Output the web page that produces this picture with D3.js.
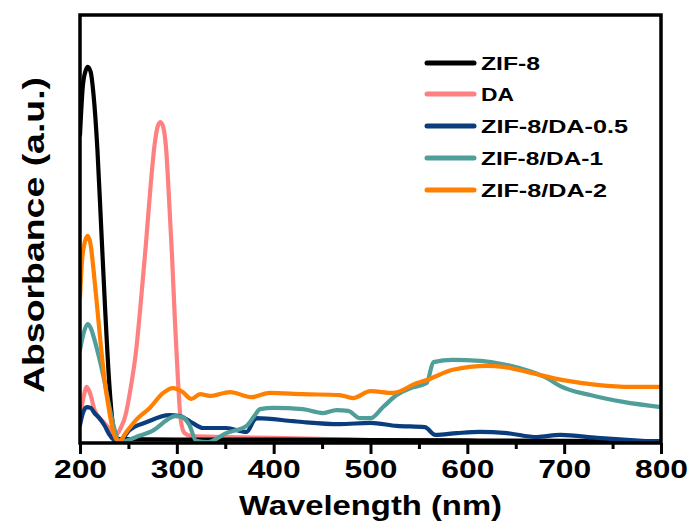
<!DOCTYPE html>
<html><head><meta charset="utf-8">
<script src="https://cdn.jsdelivr.net/npm/d3@7"></script>
<style>body{margin:0;background:#fff}svg{display:block}text{font-family:"Liberation Sans",Arial,sans-serif;font-weight:bold}</style>
</head><body>
<svg id="c" width="688" height="530"></svg>
<script>
const xTicks = [200,300,400,500,600,700,800];
const xMinorTicks = [250,350,450,550,650,750];
const seriesNames = ["ZIF-8","DA","ZIF-8/DA-0.5","ZIF-8/DA-1","ZIF-8/DA-2"];
const seriesColors = ["#000000","#ff8080","#0a3d7d","#4f9e9a","#ff8000"];

const zif8 = [[200,0.72],[203,0.836],[206,0.871],[208,0.879],[211,0.867],[214,0.813],[218,0.685],[222,0.498],[226,0.311],[230,0.147],[234,0.042],[237,0.016],[240,0.009],[300,0.008],[400,0.008],[500,0.007],[600,0.006],[700,0.005],[800,0.004]];
const da = [[200,0.061],[203,0.100],[207,0.131],[211,0.112],[215,0.077],[225,0.047],[234,0.026],[238,0.021],[242,0.035],[247,0.065],[252,0.124],[258,0.217],[263,0.334],[268,0.463],[273,0.603],[277,0.696],[280,0.738],[283,0.750],[286,0.738],[289,0.685],[292,0.568],[295,0.439],[298,0.287],[301,0.154],[304,0.054],[308,0.023],[315,0.016],[350,0.014],[400,0.012],[500,0.007],[600,0.005],[700,0.0035],[800,0.002]];
const da05 = [[200,0.042],[203,0.070],[207,0.084],[211,0.082],[215,0.070],[220,0.058],[225,0.042],[230,0.021],[235,0.007],[240,0.002],[251,0.030],[269,0.049],[292,0.065],[303,0.063],[316,0.047],[327,0.035],[351,0.035],[372,0.026],[380,0.054],[382,0.058],[420,0.051],[430,0.049],[468,0.044],[500,0.047],[527,0.040],[556,0.037],[567,0.019],[589,0.023],[613,0.026],[641,0.023],[672,0.014],[696,0.019],[734,0.012],[800,0.002]];
const da1 = [[200,0.217],[204,0.259],[208,0.278],[211,0.269],[215,0.241],[219,0.206],[222,0.178],[226,0.136],[229,0.100],[234,0.047],[238,0.014],[241,0.002],[250,0.007],[258,0.014],[276,0.030],[290,0.054],[298,0.063],[305,0.061],[313,0.042],[320,0.005],[332,0.002],[351,0.023],[372,0.040],[380,0.063],[386,0.079],[400,0.082],[430,0.079],[451,0.070],[465,0.077],[477,0.075],[489,0.058],[500,0.058],[513,0.084],[527,0.112],[541,0.128],[558,0.140],[565,0.189],[585,0.194],[613,0.192],[630,0.187],[654,0.175],[682,0.152],[696,0.133],[727,0.112],[761,0.096],[800,0.084]];
const da2 = [[200,0.341],[202,0.423],[205,0.470],[208,0.484],[211,0.463],[214,0.404],[218,0.311],[222,0.217],[226,0.136],[230,0.077],[234,0.030],[238,0.007],[240,0.003],[248,0.026],[258,0.054],[272,0.082],[286,0.117],[296,0.128],[306,0.119],[315,0.103],[324,0.114],[334,0.110],[355,0.119],[377,0.107],[396,0.117],[430,0.114],[468,0.112],[482,0.105],[500,0.121],[523,0.117],[548,0.140],[558,0.147],[585,0.171],[620,0.180],[637,0.178],[665,0.164],[699,0.147],[734,0.136],[768,0.131],[800,0.131]];
const seriesData = [zif8, da, da05, da1, da2];
const drawOrder = [1,0,2,3,4];

const svg = d3.select("#c");
const L = 80, R = 661, T = 15, B = 443;
const x = d3.scaleLinear().domain([200,800]).range([L,R]);
const y = d3.scaleLinear().domain([0,1]).range([B,T]);

svg.append("clipPath").attr("id","clip").append("rect").attr("x",L).attr("y",T).attr("width",R-L).attr("height",B-T);

const line = d3.line().x(d=>x(d[0])).y(d=>y(d[1])).curve(d3.curveMonotoneX);
const g = svg.append("g").attr("clip-path","url(#clip)");
drawOrder.forEach(i=>{
  g.append("path").datum(seriesData[i]).attr("d",line).attr("fill","none")
   .attr("stroke",seriesColors[i]).attr("stroke-width",4.2).attr("stroke-linejoin","round").attr("stroke-linecap","round");
});

// frame
svg.append("rect").attr("x",L).attr("y",T).attr("width",R-L).attr("height",B-T).attr("fill","none").attr("stroke","#000").attr("stroke-width",3.5);

// x axis
const ax = svg.append("g").attr("transform",`translate(0,${B})`)
  .call(d3.axisBottom(x).tickValues(xTicks).tickSize(11).tickFormat(d3.format("d")));
ax.select(".domain").remove();
ax.selectAll(".tick line").attr("stroke","#000").attr("stroke-width",3);
ax.selectAll(".tick text").attr("fill","#000").attr("font-size",26).attr("dy",0).attr("y",35)
  .attr("textLength",53).attr("lengthAdjust","spacingAndGlyphs");
const axm = svg.append("g").attr("transform",`translate(0,${B})`)
  .call(d3.axisBottom(x).tickValues(xMinorTicks).tickSize(6).tickFormat(""));
axm.select(".domain").remove();
axm.selectAll(".tick line").attr("stroke","#000").attr("stroke-width",3);

svg.append("text").attr("x",(L+R)/2).attr("y",515).attr("text-anchor","middle").attr("font-size",27)
  .attr("textLength",263).attr("lengthAdjust","spacingAndGlyphs").text("Wavelength (nm)");
svg.append("text").attr("transform",`translate(44,235) rotate(-90)`).attr("text-anchor","middle").attr("font-size",30)
  .attr("textLength",316).attr("lengthAdjust","spacingAndGlyphs").text("Absorbance (a.u.)");

// legend
const legY = [63,94,126,158,190];
const legW = [59,33,147,122,126];
const leg = svg.append("g");
seriesNames.forEach((n,i)=>{
  leg.append("line").attr("x1",427).attr("x2",474).attr("y1",legY[i]).attr("y2",legY[i])
    .attr("stroke",seriesColors[i]).attr("stroke-width",5).attr("stroke-linecap","round");
  leg.append("text").attr("x",481).attr("y",legY[i]+7).attr("font-size",19)
    .attr("textLength",legW[i]).attr("lengthAdjust","spacingAndGlyphs").text(n);
});
</script>
</body></html>
